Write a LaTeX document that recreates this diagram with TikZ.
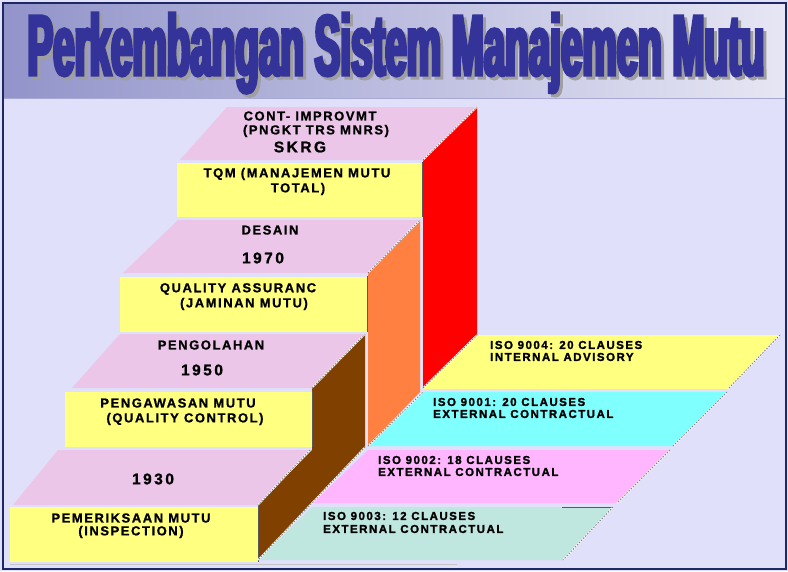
\documentclass[tikz,border=0pt]{standalone}
\usepackage{fontspec}
\setmainfont{Liberation Sans}
\newfontfamily\labfont{Liberation Sans}[LetterSpace=12, FakeBold=1]
\newfontfamily\yearfont{Liberation Sans}[LetterSpace=16, FakeBold=1]
\newfontfamily\isofont{Liberation Sans}[LetterSpace=13, FakeBold=1.5]
\newfontfamily\headfont{Liberation Sans}[FakeStretch=0.45, FakeBold=4]

\definecolor{paper}{RGB}{224,224,250}
\definecolor{bandL}{RGB}{146,148,202}
\definecolor{bandR}{RGB}{230,230,244}
\definecolor{frame}{RGB}{30,40,100}
\definecolor{ink}{RGB}{51,51,153}
\definecolor{steptop}{RGB}{236,198,232}
\definecolor{stepfront}{RGB}{255,255,128}
\definecolor{sideA}{RGB}{128,64,0}
\definecolor{sideB}{RGB}{255,128,64}
\definecolor{sideC}{RGB}{255,0,0}
\definecolor{isoY}{RGB}{255,255,128}
\definecolor{isoC}{RGB}{128,255,255}
\definecolor{isoP}{RGB}{255,182,255}
\definecolor{isoT}{RGB}{192,230,224}

% heavy condensed heading, sized to the band
\newcommand\titletext{\resizebox{737pt}{62pt}{\headfont\bfseries\fontsize{86}{90}\selectfont Perkembangan Sistem Manajemen Mutu}}
% heading with its grey drop shadow in one box
\newcommand\shadedtitle{%
  \makebox[0pt][l]{\kern3pt\raisebox{-3pt}{\color{gray!75}\titletext}}%
  \titletext}

\tikzset{
  rim/.style={draw=gray, line width=0.9pt, dash pattern=on 1.5pt off 1.5pt,
              preaction={draw=white, solid, line width=1.4pt}},
  frontedge/.style={draw=gray!70!black, line width=0.8pt},
  lab/.style={font=\labfont\bfseries\fontsize{13}{15}\selectfont, inner sep=0pt},
  yr/.style={font=\yearfont\bfseries\fontsize{15.5}{17}\selectfont, inner sep=0pt},
  iso/.style={font=\isofont\bfseries\fontsize{11.5}{13}\selectfont, anchor=west, inner sep=0pt}
}

\begin{document}
\begin{tikzpicture}[x=1pt,y=-1pt]
\useasboundingbox (0,0) rectangle (788,571);
\fill[paper] (0,0) rectangle (788,571);

% heading band
\shade[left color=bandL, right color=bandR] (3,3) rectangle (786,98);
\draw[bandL!80, line width=1pt] (3,98) -- (786,98);
\node[anchor=base, inner sep=0pt, text=ink] (title) at (396,75) {\shadedtitle};

% ---- side faces of the staircase ----
\fill[sideC] (423,160) -- (477,107) -- (477,335) -- (423,388) -- cycle;
\fill[sideB] (368,273) -- (420,220) -- (420,392) -- (368,446) -- cycle;
\fill[sideA] (312,388) -- (365,334) -- (365,447) -- (258,560) -- (258,505) -- (312,450) -- cycle;

% ---- ISO plates ----
\fill[isoY] (477,335) -- (780,335) -- (728,389) -- (423,389) -- cycle;
\fill[isoC] (423,392) -- (727,392) -- (673,446) -- (368,446) -- cycle;
\fill[isoP] (368,450) -- (670,450) -- (617,503) -- (313,503) -- cycle;
\fill[isoT] (312,507) -- (613,507) -- (563,560) -- (258,560) -- cycle;
\draw[gray!70!black, line width=0.6pt] (562,507) -- (613,507);

% ---- steps: top (pink) and front (yellow) ----
% step 4
\fill[steptop] (180,160) -- (227,107) -- (477,107) -- (423,160) -- cycle;
\fill[stepfront] (177,163) rectangle (422,217);
\draw[frontedge] (422,162) -- (422,217);
% step 3
\fill[steptop] (123,273) -- (178,220) -- (420,220) -- (367,273) -- cycle;
\fill[stepfront] (120,277) rectangle (367,332);
\draw[frontedge] (367,276) -- (367,332);
% step 2
\fill[steptop] (72,388) -- (120,334) -- (365,334) -- (312,388) -- cycle;
\fill[stepfront] (65,392) rectangle (312,447);
\draw[frontedge] (312,391) -- (312,447);
% step 1
\fill[steptop] (13,505) -- (58,450) -- (310,450) -- (258,505) -- cycle;
\fill[stepfront] (10,507) rectangle (258,562);
\draw[frontedge] (258,505) -- (258,562);

% ---- ragged rims on the slanted edges ----
\draw[rim] (423,160) -- (477,107);
\draw[rim] (423,388) -- (477,335);
\draw[rim] (780,335) -- (728,389);
\draw[rim] (368,273) -- (420,220);
\draw[rim] (368,446) -- (423,392);
\draw[rim] (727,392) -- (673,446);
\draw[rim] (312,388) -- (365,334);
\draw[rim] (365,447) -- (258,560);
\draw[rim] (310,450) -- (258,505);
\draw[rim] (670,450) -- (617,503);
\draw[rim] (613,507) -- (563,560);

% floor line
\draw[gray!45, line width=0.8pt] (10,564) -- (457,564);

% ---- step texts ----
\node[lab] (s4a) at (310,116) {CONT- IMPROVMT};
\node[lab] (s4b) at (316,131) {(PNGKT TRS MNRS)};
\node[yr]  (s4c) at (300,147) {SKRG};
\node[lab] (s4d) at (297,174) {TQM (MANAJEMEN MUTU};
\node[lab] (s4e) at (298,189) {TOTAL)};

\node[lab] (s3a) at (270,230) {DESAIN};
\node[yr]  (s3b) at (263,258) {1970};
\node[lab] (s3c) at (238,289) {QUALITY ASSURANC};
\node[lab] (s3d) at (244,304) {(JAMINAN MUTU)};

\node[lab] (s2a) at (211,345) {PENGOLAHAN};
\node[yr]  (s2b) at (202,370) {1950};
\node[lab] (s2c) at (178,403) {PENGAWASAN MUTU};
\node[lab] (s2d) at (185,419) {(QUALITY CONTROL)};

\node[yr]  (s1a) at (153,479) {1930};
\node[lab] (s1b) at (131,518) {PEMERIKSAAN MUTU};
\node[lab] (s1c) at (131,532) {(INSPECTION)};

% ---- ISO texts ----
\node[iso] (i4a) at (490,345) {ISO 9004: 20 CLAUSES};
\node[iso] (i4b) at (490,357) {INTERNAL ADVISORY};
\node[iso] (i1a) at (433,402) {ISO 9001: 20 CLAUSES};
\node[iso] (i1b) at (433,414) {EXTERNAL CONTRACTUAL};
\node[iso] (i2a) at (378,460) {ISO 9002: 18 CLAUSES};
\node[iso] (i2b) at (378,472) {EXTERNAL CONTRACTUAL};
\node[iso] (i3a) at (323,516) {ISO 9003: 12 CLAUSES};
\node[iso] (i3b) at (323,529) {EXTERNAL CONTRACTUAL};

% outer frame
\draw[frame, line width=1.5pt] (3,3) rectangle (786,569);
\end{tikzpicture}
\end{document}
